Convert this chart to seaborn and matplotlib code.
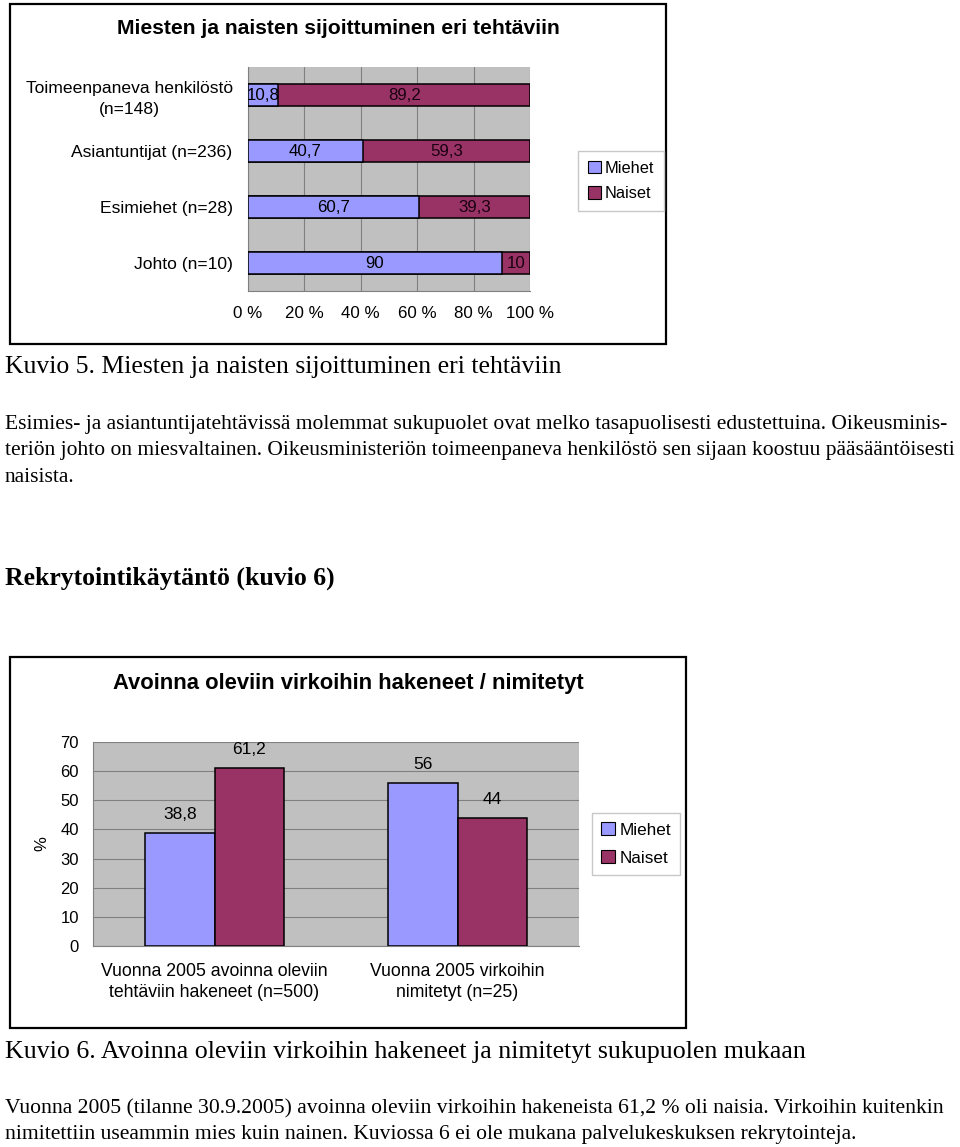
import matplotlib
matplotlib.use("Agg")
import matplotlib.pyplot as plt
from matplotlib.patches import Rectangle, Patch
import seaborn as sns
import pandas as pd
import numpy as np

# ---------------- data ----------------
groups1 = ["Toimeenpaneva henkilöstö\n(n=148)", "Asiantuntijat (n=236)",
           "Esimiehet (n=28)", "Johto (n=10)"]
miehet1 = [10.8, 40.7, 60.7, 90]
naiset1 = [89.2, 59.3, 39.3, 10]
xticks1 = [0, 20, 40, 60, 80, 100]

groups2 = ["Vuonna 2005 avoinna oleviin\ntehtäviin hakeneet (n=500)",
           "Vuonna 2005 virkoihin\nnimitetyt (n=25)"]
miehet2 = [38.8, 56]
naiset2 = [61.2, 44]
yticks2 = [0, 10, 20, 30, 40, 50, 60, 70]

series = ["Miehet", "Naiset"]
title1 = "Miesten ja naisten sijoittuminen eri tehtäviin"
title2 = "Avoinna oleviin virkoihin hakeneet / nimitetyt"

caption5 = "Kuvio 5. Miesten ja naisten sijoittuminen eri tehtäviin"
para1 = ["Esimies- ja asiantuntijatehtävissä molemmat sukupuolet ovat melko tasapuolisesti edustettuina. Oikeusminis-",
         "teriön johto on miesvaltainen. Oikeusministeriön toimeenpaneva henkilöstö sen sijaan koostuu pääsääntöisesti",
         "naisista."]
heading = "Rekrytointikäytäntö (kuvio 6)"
caption6 = "Kuvio 6. Avoinna oleviin virkoihin hakeneet ja nimitetyt sukupuolen mukaan"
para2 = ["Vuonna 2005 (tilanne 30.9.2005) avoinna oleviin virkoihin hakeneista 61,2 % oli naisia. Virkoihin kuitenkin",
         "nimitettiin useammin mies kuin nainen. Kuviossa 6 ei ole mukana palvelukeskuksen rekrytointeja."]

# ---------------- style ----------------
C_M = "#9999FF"
C_N = "#993366"
BG = "#C0C0C0"
GRID = "#808080"

sns.set_style("white")
plt.rcParams["font.family"] = ["Liberation Sans", "DejaVu Sans"]
for k in ["text.color", "axes.labelcolor", "xtick.labelcolor", "ytick.labelcolor"]:
    plt.rcParams[k] = "black"

W, H = 960, 1147
fig = plt.figure(figsize=(W / 100, H / 100), dpi=100)
fig.patch.set_facecolor("white")


def fx(x):
    return x / W


def fy(y):
    return 1 - y / H


def axes_px(x0, y0, x1, y1):
    return fig.add_axes([fx(x0), fy(y1), (x1 - x0) / W, (y1 - y0) / H])


def fmt(v):
    return f"{v:g}".replace(".", ",")


# frames
for (x0, y0, x1, y1) in [(10, 4, 666, 344), (10, 657, 686, 1028)]:
    fig.patches.append(Rectangle((fx(x0), fy(y1)), (x1 - x0) / W, (y1 - y0) / H,
                                 transform=fig.transFigure, fill=False,
                                 edgecolor="black", linewidth=1.6, zorder=0))

# ---------------- chart 1 ----------------
ax1 = axes_px(248, 67, 530, 291)
ax1.set_facecolor(BG)
totals1 = [m + n for m, n in zip(miehet1, naiset1)]
sns.barplot(x=totals1, y=groups1, orient="h", color=C_N, saturation=1,
            width=0.4, edgecolor="black", linewidth=1.1, ax=ax1, zorder=3)
sns.barplot(x=miehet1, y=groups1, orient="h", color=C_M, saturation=1,
            width=0.4, edgecolor="black", linewidth=1.1, ax=ax1, zorder=3)
ax1.set_xlim(0, 100)
ax1.set_ylim(3.5, -0.5)
ax1.set_xticks(xticks1)
ax1.set_xticklabels([f"{t} %" for t in xticks1], fontsize=12.2)
ax1.xaxis.grid(True, color=GRID, linewidth=0.8, zorder=0)
ax1.set_axisbelow(True)
ax1.set_xlabel("")
ax1.set_ylabel("")
ax1.tick_params(axis="x", length=3, pad=8, color=GRID, direction="out")
ax1.tick_params(axis="y", length=0, pad=11, labelsize=12.6)
ax1.set_yticks(np.arange(-0.5, 4, 1), minor=True)
ax1.tick_params(axis="y", which="minor", length=4, color=GRID, direction="out")
for lab in ax1.get_yticklabels():
    lab.set_multialignment("center")
    lab.set_linespacing(1.45)
for s in ["top", "right"]:
    ax1.spines[s].set_visible(False)
for s in ["left", "bottom"]:
    ax1.spines[s].set_color(GRID)
    ax1.spines[s].set_linewidth(0.8)
ax1.bar_label(ax1.containers[1], labels=[fmt(v) for v in miehet1],
              label_type="center", fontsize=12.2, color="black", zorder=5)
for i, (m, n) in enumerate(zip(miehet1, naiset1)):
    ax1.text(m + n / 2, i, fmt(n), ha="center", va="center",
             fontsize=12.2, color="#1a0010", zorder=5)

fig.text(fx(338), fy(28), title1, ha="center", va="center",
         fontsize=15.2, fontweight="bold")
fig.legend(handles=[Patch(facecolor=C_M, edgecolor="black", linewidth=0.8),
                    Patch(facecolor=C_N, edgecolor="black", linewidth=0.8)],
           labels=series, loc="center", bbox_to_anchor=(fx(621), fy(181)),
           fontsize=11.8, frameon=True, fancybox=False, framealpha=1,
           edgecolor="#c8c8c8", handlelength=0.8, handleheight=0.8,
           handletextpad=0.25, labelspacing=0.65, borderpad=0.6,
           borderaxespad=0)

# ---------------- chart 2 ----------------
ax2 = axes_px(93, 742, 579, 946)
ax2.set_facecolor(BG)
df2 = pd.DataFrame({
    "ryhmä": groups2 * 2,
    "osuus": miehet2 + naiset2,
    "sukupuoli": [series[0]] * len(groups2) + [series[1]] * len(groups2),
})
sns.barplot(data=df2, x="ryhmä", y="osuus", hue="sukupuoli",
            palette={series[0]: C_M, series[1]: C_N}, saturation=1,
            width=0.57, edgecolor="black", linewidth=1.1, errorbar=None,
            legend=False, ax=ax2, zorder=3)
ax2.set_ylim(0, 70)
ax2.set_xlim(-0.5, 1.5)
ax2.set_yticks(yticks2)
ax2.set_yticklabels([str(t) for t in yticks2], fontsize=12)
ax2.yaxis.grid(True, color=GRID, linewidth=0.8, zorder=0)
ax2.set_axisbelow(True)
ax2.set_xlabel("")
ax2.set_ylabel("%", fontsize=12)
ax2.yaxis.set_label_coords((49 - 93) / 486, 0.5)
ax2.tick_params(axis="y", length=4, pad=6, color=GRID, direction="out")
ax2.tick_params(axis="x", which="major", length=0, pad=12, labelsize=12.7)
ax2.set_xticks([-0.5, 0.5, 1.5], minor=True)
ax2.tick_params(axis="x", which="minor", length=4, color=GRID, direction="out")
for lab in ax2.get_xticklabels():
    lab.set_multialignment("center")
    lab.set_linespacing(1.3)
for s in ["top", "right"]:
    ax2.spines[s].set_visible(False)
for s in ["left", "bottom"]:
    ax2.spines[s].set_color(GRID)
    ax2.spines[s].set_linewidth(0.8)
for cont, vals in zip(ax2.containers, [miehet2, naiset2]):
    ax2.bar_label(cont, labels=[fmt(v) for v in vals], padding=8,
                  fontsize=12.5, color="black")

fig.text(fx(348), fy(684), title2, ha="center", va="center",
         fontsize=15.8, fontweight="bold")
fig.legend(handles=[Patch(facecolor=C_M, edgecolor="black", linewidth=0.8),
                    Patch(facecolor=C_N, edgecolor="black", linewidth=0.8)],
           labels=series, loc="center", bbox_to_anchor=(fx(636), fy(844)),
           fontsize=12.3, frameon=True, fancybox=False, framealpha=1,
           edgecolor="#c8c8c8", handlelength=0.8, handleheight=0.8,
           handletextpad=0.25, labelspacing=0.72, borderpad=0.55,
           borderaxespad=0)

# ---------------- body text ----------------
renderer = fig.canvas.get_renderer()
SERIF = ["Liberation Serif", "DejaVu Serif"]


def fit_size(s, width_px, weight="normal", size0=14):
    t = fig.text(0, 0, s, fontsize=size0, family=SERIF, fontweight=weight)
    w = t.get_window_extent(renderer).width
    t.remove()
    return size0 * width_px / w


def put(s, y, size, weight="normal"):
    fig.text(fx(5), fy(y), s, ha="left", va="center", fontsize=size,
             family=SERIF, fontweight=weight)


put(caption5, 367, fit_size(caption5, 560))
sz = fit_size(para1[0], 948)
for line, y in zip(para1, [425, 451, 477]):
    put(line, y, sz)
put(heading, 578, fit_size(heading, 330, "bold"), "bold")
put(caption6, 1052, fit_size(caption6, 805))
sz2 = fit_size(para2[0], 940)
for line, y in zip(para2, [1109, 1135]):
    put(line, y, sz2)

fig.savefig("out.png", dpi=100, facecolor="white")
